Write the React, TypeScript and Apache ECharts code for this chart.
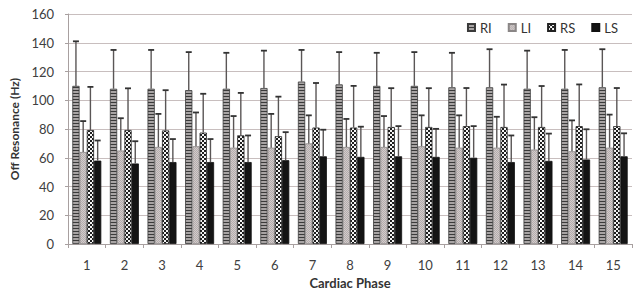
import React, { useEffect, useRef } from 'react';
import * as echarts from 'echarts';

const categories = ['1', '2', '3', '4', '5', '6', '7', '8', '9', '10', '11', '12', '13', '14', '15'];
const seriesNames = ['RI', 'LI', 'RS', 'LS'];
const yTicks = { min: 0, max: 160, interval: 20 };

const riMean = [110, 108, 108, 107, 108, 108.5, 113, 111, 110, 110, 109, 109, 108, 108, 109];
const riSd = [31, 27, 27, 26.5, 25, 26, 22, 22.5, 23, 23.5, 24, 26.5, 26.5, 27, 26.5];
const liMean = [64, 65, 67.5, 68, 67, 67, 70, 67.5, 67.5, 68, 67, 67, 65.7, 64.5, 67];
const liSd = [21.5, 22.5, 23, 23.5, 22, 23.5, 19.5, 19.5, 21.5, 21.5, 22.5, 21.5, 22.5, 21.5, 23];
const rsMean = [79.3, 79.3, 79, 77.5, 75.6, 75, 81, 81, 81.4, 81.4, 82, 81.4, 81.4, 82, 82];
const rsSd = [30, 29, 28, 27, 29.5, 27.5, 31, 29, 27, 27, 26.5, 29.5, 28.5, 29, 26.5];
const lsMean = [58, 56, 57, 57, 57, 58.3, 61, 60.6, 61, 60.6, 60, 57, 57.8, 58.8, 61];
const lsSd = [14, 15.5, 16, 16, 18.5, 19.5, 18.5, 21, 21, 19.5, 22, 18.5, 19, 21, 16];

const means = [riMean, liMean, rsMean, lsMean];
const sds = [riSd, liSd, rsSd, lsSd];

const GAP = 0.23;

function makePattern(kind: string) {
  const c = document.createElement('canvas');
  let w = 4, h = 4;
  if (kind === 'RI') { w = 4; h = 3; }
  if (kind === 'LI') { w = 2; h = 2; }
  c.width = w; c.height = h;
  const ctx = c.getContext('2d')!;
  if (kind === 'RI') {
    ctx.fillStyle = '#a8a4a4'; ctx.fillRect(0, 0, w, h);
    ctx.fillStyle = '#3a3a3a'; ctx.fillRect(0, 0, w, 1);
  } else if (kind === 'LI') {
    ctx.fillStyle = '#d2cbcb'; ctx.fillRect(0, 0, w, h);
    ctx.fillStyle = '#b4adad'; ctx.fillRect(0, 0, 1, 1); ctx.fillRect(1, 1, 1, 1);
  } else if (kind === 'RS') {
    ctx.fillStyle = '#1e1e1e'; ctx.fillRect(0, 0, w, h);
    ctx.fillStyle = '#f4f4f4'; ctx.fillRect(0, 0, 2, 2); ctx.fillRect(2, 2, 2, 2);
  }
  return { image: c, repeat: 'repeat', imageWidth: w, imageHeight: h } as any;
}

export default function App() {
  const ref = useRef<HTMLDivElement>(null);
  useEffect(() => {
    if (!ref.current) return;
    const chart = echarts.init(ref.current, null, { renderer: 'svg' });
    const fills: any[] = [makePattern('RI'), makePattern('LI'), makePattern('RS'), '#141414'];
    const borders = ['#3a3a3a', '#8a8686', '#222222', '#111111'];
    const font = 'Lato, "Open Sans", sans-serif';

    const barSeries = seriesNames.map((name, si) => ({
      name,
      type: 'bar',
      data: means[si],
      barGap: '0%',
      barCategoryGap: GAP * 100 + '%',
      itemStyle: { color: fills[si], borderColor: borders[si], borderWidth: 0.8 },
      z: 2,
    }));

    const errData: number[][] = [];
    seriesNames.forEach((_, si) => {
      means[si].forEach((m, ci) => {
        errData.push([ci, si, m, m + sds[si][ci]]);
      });
    });

    const errSeries = {
      type: 'custom',
      name: 'err',
      data: errData,
      encode: { x: 0, y: [2, 3] },
      z: 5,
      silent: true,
      renderItem: (params: any, api: any) => {
        const cat = api.value(0);
        const s = api.value(1);
        const mean = api.value(2);
        const top = api.value(3);
        const band = api.size([1, 0])[0];
        const groupW = band * (1 - GAP);
        const bw = groupW / 4;
        const base = api.coord([cat, mean]);
        const tip = api.coord([cat, top]);
        const x = base[0] - groupW / 2 + (s + 0.5) * bw;
        return {
          type: 'group',
          children: [
            { type: 'line', shape: { x1: x, y1: base[1], x2: x, y2: tip[1] }, style: { stroke: '#5a5656', lineWidth: 1.4 } },
            { type: 'line', shape: { x1: x - 3, y1: tip[1], x2: x + 3, y2: tip[1] }, style: { stroke: '#333', lineWidth: 1.8 } },
          ],
        };
      },
    };

    chart.setOption({
      animation: false,
      backgroundColor: '#ffffff',
      grid: { left: 68, right: 3, top: 14, bottom: 53 },
      legend: {
        data: seriesNames,
        right: 17,
        top: 21,
        padding: 0,
        itemWidth: 7,
        itemHeight: 7,
        itemGap: 16,
        icon: 'rect',
        textStyle: { fontFamily: font, fontSize: 13, color: '#333' },
      },
      xAxis: {
        type: 'category',
        data: categories,
        name: 'Cardiac Phase',
        nameLocation: 'middle',
        nameGap: 32,
        nameTextStyle: { fontFamily: font, fontSize: 13, fontWeight: 'bold', color: '#333' },
        axisLine: { lineStyle: { color: '#a8a0a0' } },
        axisTick: { show: true, interval: 0, length: 4, lineStyle: { color: '#a8a0a0' } },
        axisLabel: { fontFamily: font, fontSize: 13, color: '#404040', margin: 14 },
      },
      yAxis: {
        type: 'value',
        min: yTicks.min,
        max: yTicks.max,
        interval: yTicks.interval,
        name: 'Off Resonance (Hz)',
        nameLocation: 'middle',
        nameGap: 38,
        nameTextStyle: { fontFamily: font, fontSize: 12, fontWeight: 'bold', color: '#333' },
        axisLine: { show: true, lineStyle: { color: '#a8a0a0' } },
        axisTick: { show: true, length: 3, lineStyle: { color: '#a8a0a0' } },
        axisLabel: { fontFamily: font, fontSize: 13, color: '#404040', margin: 14 },
        splitLine: { lineStyle: { color: '#c8bebe', width: 1 } },
      },
      series: [...barSeries, errSeries],
    } as any);
    return () => chart.dispose();
  }, []);
  return <div ref={ref} style={{ width: 635, height: 297, position: 'absolute', left: 0, top: 0 }} />;
}
